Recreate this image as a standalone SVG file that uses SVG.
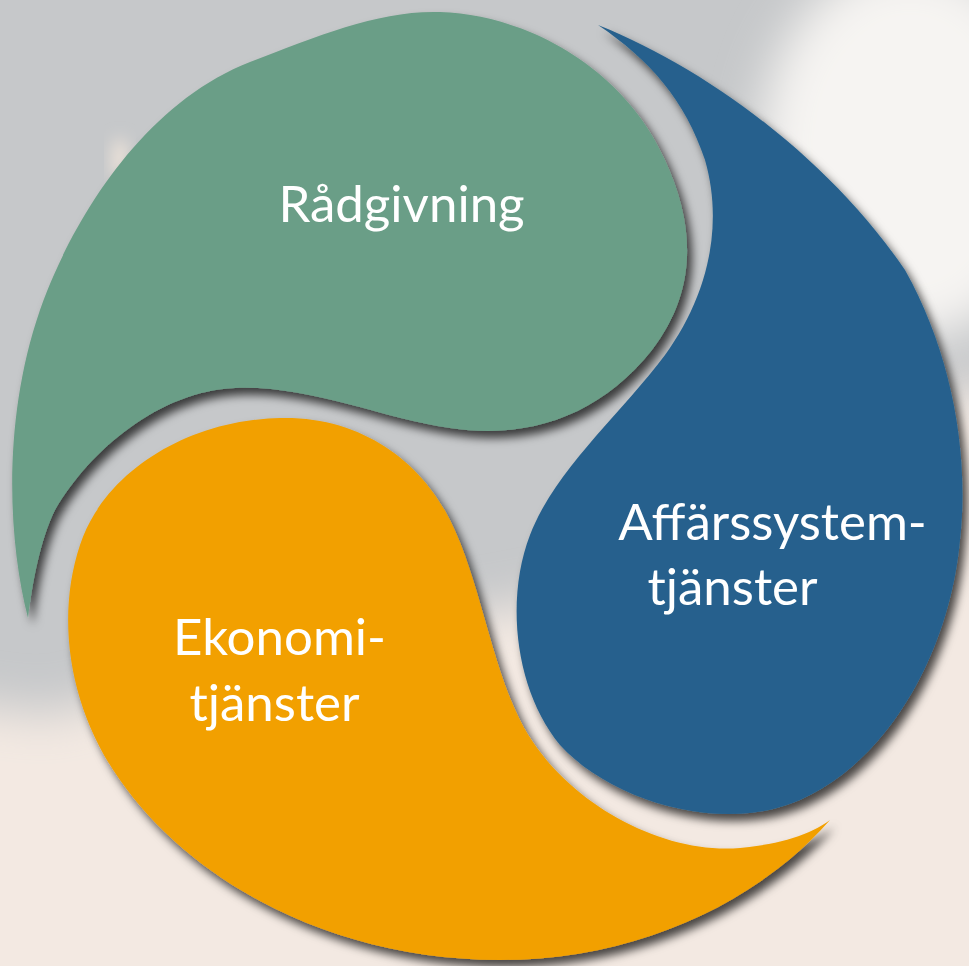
<svg xmlns="http://www.w3.org/2000/svg" width="969" height="966" viewBox="0 0 969 966">
  <style>
    .lbl { font-family: Lato, "Open Sans", "Liberation Sans", sans-serif; font-size: 51px; fill: #ffffff; text-anchor: middle; }
    .shape { filter: url(#shadow); }
  </style>
  <defs>
    <filter id="shadow" x="-10%" y="-10%" width="130%" height="130%">
      <feDropShadow dx="5" dy="7" stdDeviation="5" flood-color="#000000" flood-opacity="0.7"/>
    </filter>
    <filter id="blurBig" x="-30%" y="-30%" width="160%" height="160%">
      <feGaussianBlur stdDeviation="24"/>
    </filter>
    <filter id="blurSmall" x="-50%" y="-50%" width="200%" height="200%">
      <feGaussianBlur stdDeviation="8"/>
    </filter>
  </defs>

  <!-- background (blurred photo) -->
  <g id="background">
    <rect x="0" y="0" width="969" height="966" fill="#c6c8ca"/>
    <polygon points="-60,700 50,715 300,640 500,610 700,570 960,390 1030,380 1030,1030 -60,1030" fill="#f3e9e2" filter="url(#blurBig)"/>
    <ellipse cx="910" cy="150" rx="150" ry="190" fill="#f6f4f2" filter="url(#blurBig)"/>
    <ellipse cx="120" cy="160" rx="8" ry="22" fill="#efe4da" filter="url(#blurSmall)"/>
  </g>

  <g id="node-radgivning">
    <path class="shape" fill="#6b9e87" d="M 28,618 C 8,540 2,420 40,310 C 70,225 140,105 250,62 C 320,35 380,10 440,12 C 530,15 625,70 665,160 C 695,225 698,290 652,350 C 600,415 530,440 450,428 C 380,418 310,385 235,388 C 160,391 90,450 55,510 C 40,540 32,585 28,618 Z"/>
    <text class="lbl" x="401.5" y="222">Rådgivning</text>
  </g>

  <g id="node-affarssystem">
    <path class="shape" fill="#27618d" d="M 598,25 C 710,70 830,160 905,270 C 950,350 970,450 960,540 C 950,650 890,760 800,800 C 720,835 610,800 560,745 C 515,690 505,600 530,535 C 555,470 620,415 665,355 C 705,300 725,230 705,160 C 685,100 650,60 598,25 Z"/>
    <text class="lbl" x="772.5" y="540">Affärssystem-</text>
    <text class="lbl" x="732.5" y="605">tjänster</text>
  </g>

  <g id="node-ekonomi">
    <path class="shape" fill="#f2a003" d="M 830,820 C 760,900 640,960 500,960 C 330,960 190,880 120,780 C 70,710 55,620 80,545 C 105,470 190,420 280,418 C 360,416 420,460 450,520 C 480,580 490,660 520,720 C 560,800 660,855 740,848 C 780,844 810,835 830,820 Z"/>
    <text class="lbl" x="279.5" y="655">Ekonomi-</text>
    <text class="lbl" x="274.5" y="721">tjänster</text>
  </g>

  <g id="connectors"/>
</svg>
